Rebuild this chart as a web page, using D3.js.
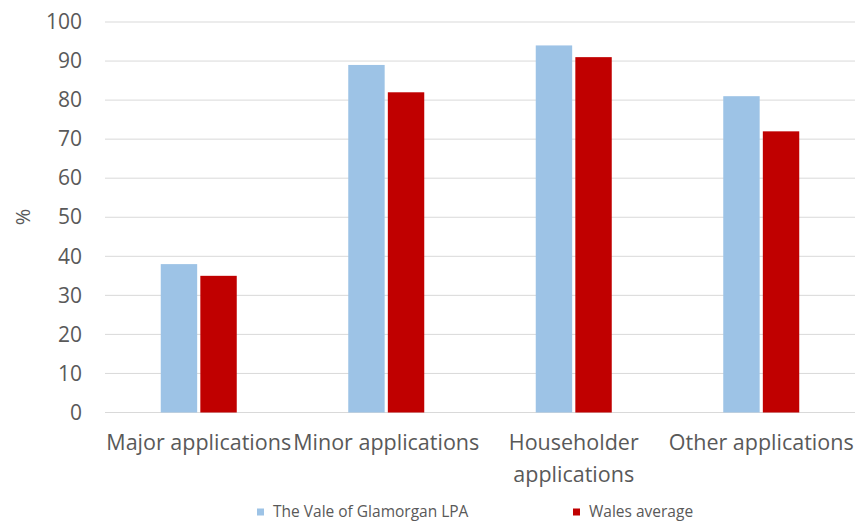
<!DOCTYPE html>
<html>
<head>
<meta charset="utf-8">
<script src="https://cdn.jsdelivr.net/npm/d3@7"></script>
<style>
  body { margin: 0; background: #fff; }
  svg text { font-family: "Open Sans", "Noto Sans", sans-serif; fill: #595959; }
</style>
</head>
<body>
<div class="chart"></div>
<script>
var categories = [["Major applications"], ["Minor applications"], ["Householder", "applications"], ["Other applications"]];
var seriesNames = ["The Vale of Glamorgan LPA", "Wales average"];
var valeValues = [38, 89, 94, 81];
var walesValues = [35, 82, 91, 72];
var yTicks = [0, 10, 20, 30, 40, 50, 60, 70, 80, 90, 100];

var colors = ["#9DC3E6", "#C00000"];

var W = 855, H = 524;
var margin = {top: 22, right: 0, bottom: 111.5, left: 105},
    width = W - margin.left - margin.right,
    height = H - margin.top - margin.bottom;

var svg = d3.select(".chart").append("svg")
    .attr("width", W)
    .attr("height", H)
  .append("g")
    .attr("transform", "translate(" + margin.left + "," + margin.top + ")");

var x = d3.scaleBand().domain(d3.range(categories.length)).range([0, width]);
var xInner = d3.scaleBand().domain([0, 1]).range([x.bandwidth() / 2 - 38, x.bandwidth() / 2 + 38]).paddingInner(0.08);
var y = d3.scaleLinear().domain([0, 100]).range([height, 0]);

// gridlines
svg.selectAll(".grid")
    .data(yTicks)
  .enter().append("line")
    .attr("x1", 0).attr("x2", width)
    .attr("y1", function(d) { return y(d); })
    .attr("y2", function(d) { return y(d); })
    .attr("stroke", "#d9d9d9")
    .attr("stroke-width", 1);

// y tick labels
var yAxis = d3.axisLeft(y).tickValues(yTicks).tickSize(0).tickPadding(23);
var gy = svg.append("g").call(yAxis);
gy.select(".domain").remove();
gy.selectAll("text").style("font-size", "21px").attr("fill", "#595959");

svg.append("text")
    .attr("transform", "translate(-82," + (217 - margin.top) + ") rotate(-90)")
    .attr("text-anchor", "middle")
    .attr("dy", "0.35em")
    .style("font-size", "20px")
    .text("%");

var series = [valeValues, walesValues];
series.forEach(function(vals, si) {
  svg.selectAll(".bar" + si)
      .data(vals)
    .enter().append("rect")
      .attr("x", function(d, i) { return x(i) + xInner(si); })
      .attr("width", xInner.bandwidth())
      .attr("y", function(d) { return y(d); })
      .attr("height", function(d) { return height - y(d); })
      .attr("fill", colors[si]);
});

// category labels
var cat = svg.selectAll(".cat")
    .data(categories)
  .enter().append("text")
    .attr("text-anchor", "middle")
    .attr("x", function(d, i) { return x(i) + x.bandwidth() / 2; })
    .attr("y", height + 37)
    .style("font-size", "21.5px");
cat.selectAll("tspan")
    .data(function(d) { return d; })
  .enter().append("tspan")
    .attr("x", function() { return d3.select(this.parentNode).attr("x"); })
    .attr("dy", function(d, i) { return i === 0 ? 0 : 32; })
    .text(function(d) { return d; });

// legend
var legendX = [257, 573];
var legend = svg.selectAll(".legend")
    .data(seriesNames)
  .enter().append("g")
    .attr("transform", function(d, i) { return "translate(" + (legendX[i] - margin.left) + "," + (512 - margin.top) + ")"; });
legend.append("rect")
    .attr("x", 0).attr("y", -3.5)
    .attr("width", 7).attr("height", 7)
    .attr("fill", function(d, i) { return colors[i]; });
legend.append("text")
    .attr("x", 16)
    .attr("dy", "0.35em")
    .style("font-size", "15.5px")
    .text(function(d) { return d; });
</script>
</body>
</html>
